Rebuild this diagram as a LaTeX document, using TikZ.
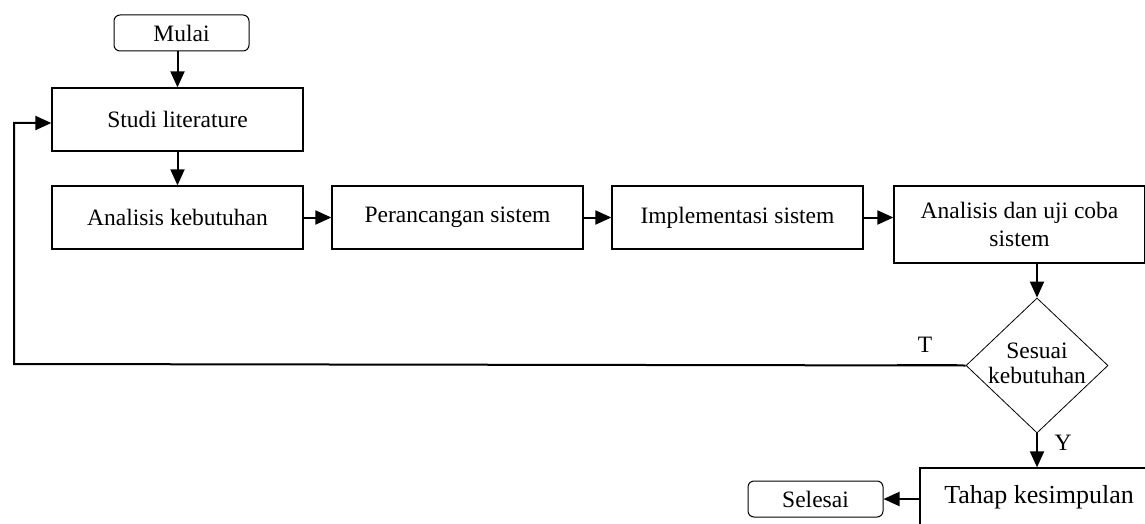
\documentclass[tikz,border=0pt]{standalone}
\usepackage{fontspec}
\setmainfont{Liberation Serif}
\usetikzlibrary{shapes.geometric,arrows.meta,calc}
\begin{document}
\begin{tikzpicture}[x=1pt,y=-1pt,
  font=\fontsize{23.5}{27}\selectfont,
  boxn/.style={draw, line width=1.3pt, rectangle, inner sep=0pt, align=center, minimum width=251pt, minimum height=63pt},
  termn/.style={draw, line width=1pt, rectangle, rounded corners=6pt, inner sep=0pt, minimum width=135pt, minimum height=36pt},
  decn/.style={draw, line width=0.8pt, diamond, inner sep=0pt, minimum width=142pt, minimum height=135pt},
  flow/.style={line width=2pt, -{Triangle[length=16pt,width=14pt]}},
  plainline/.style={line width=2pt}]
\useasboundingbox (0,0) rectangle (1145,524);
\clip (0,0) rectangle (1145,524);
\node[termn] (mulai) at (181.5,33) {Mulai};
\node[boxn] (studi) at (177.5,119.5) {Studi literature};
\node[boxn] (ak) at (177.5,217.5) {Analisis kebutuhan};
\node[boxn] (pr) at (457.5,217.5) {Perancangan sistem};
\node[boxn] (im) at (737.5,217.5) {Implementasi sistem};
\node[boxn, minimum height=77pt] (au) at (1019.5,224.5) {Analisis dan uji coba\\[1pt]sistem};
\node[decn] (dia) at (1037,365.5) {};
\node[align=center] (diatext) at (1037,363) {Sesuai\\[-2pt]kebutuhan};
\node[boxn, minimum width=238pt, minimum height=58pt, font=\fontsize{26}{30}\selectfont] (tahap) at (1039,497) {Tahap kesimpulan};
\node[termn] (selesai) at (815.5,499) {Selesai};
\node (tlabel) at (925,345) {T};
\node (ylabel) at (1063,443) {Y};
\coordinate (fbl) at (14,364);
\coordinate (fbu) at (14,123);
\coordinate (ta) at (897,364);
\coordinate (tb) at (957,364);
\draw[flow] (studi.north |- mulai.south) -- (studi.north);
\draw[flow] (studi.south) -- (ak.north);
\draw[flow] (ak.east) -- (pr.west);
\draw[flow] (pr.east) -- (im.west);
\draw[flow] (im.east) -- (im.east -| au.west);
\draw[flow] (dia.north |- au.south) -- (dia.north);
\draw[flow] (dia.west) -- (fbl) -- (fbu) -- (fbu -| studi.west);
\draw[white, line width=2.6pt] (ta) -- (tb);
\draw[line width=0.7pt] (ta) -- (tb);
\draw[flow] (dia.south) -- (dia.south |- tahap.north);
\draw[flow] (tahap.west |- selesai.east) -- (selesai.east);
\end{tikzpicture}
\end{document}
